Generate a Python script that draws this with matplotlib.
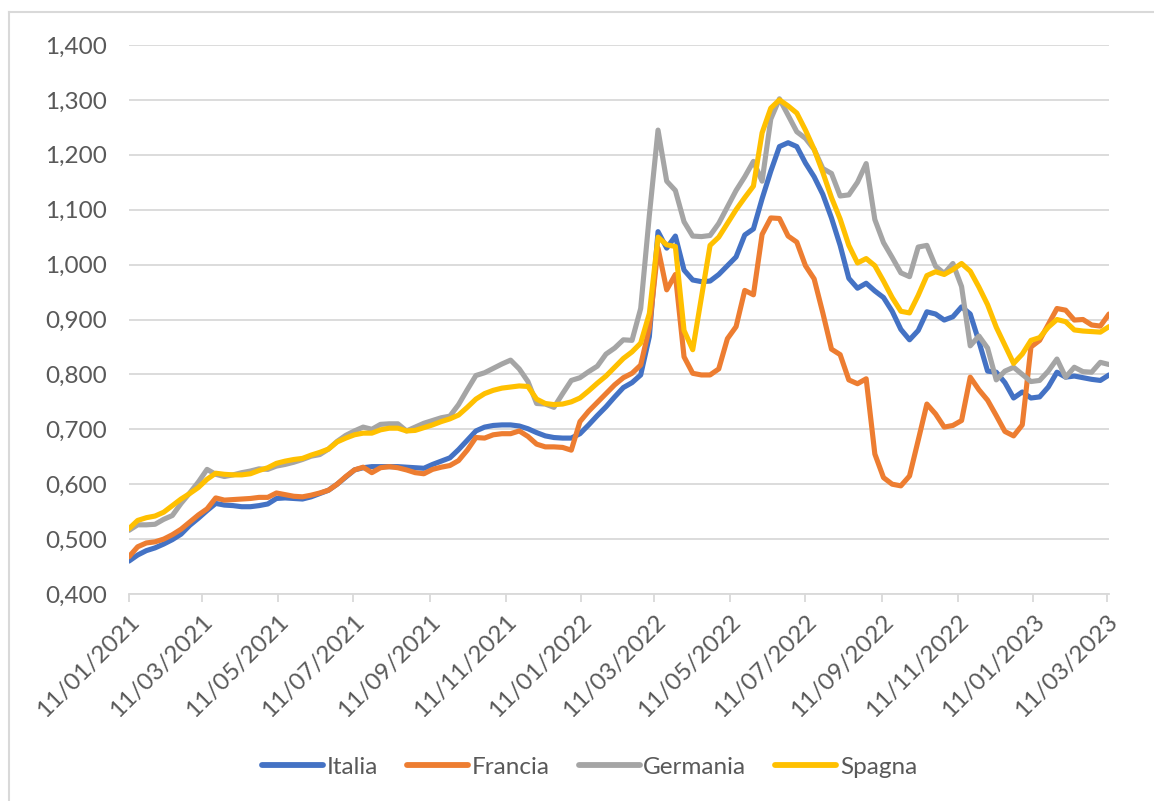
import matplotlib
matplotlib.use("Agg")
import matplotlib.pyplot as plt
import matplotlib.dates as mdates
from matplotlib.lines import Line2D
import pandas as pd

# weekly values, first week 11/01/2021
italia = [
    0.460, 0.471, 0.479, 0.484, 0.491, 0.499, 0.509, 0.525, 0.538, 0.552,
    0.565, 0.562, 0.561, 0.559, 0.559, 0.561, 0.564, 0.574, 0.575, 0.574,
    0.573, 0.577, 0.583, 0.589, 0.600, 0.613, 0.626, 0.630, 0.632, 0.632,
    0.632, 0.632, 0.631, 0.630, 0.629, 0.636, 0.642, 0.648, 0.663, 0.680,
    0.697, 0.704, 0.707, 0.708, 0.708, 0.706, 0.701, 0.694, 0.688, 0.685,
    0.684, 0.684, 0.692, 0.708, 0.725, 0.741, 0.759, 0.776, 0.785, 0.799,
    0.869, 1.060, 1.030, 1.052, 0.990, 0.972, 0.969, 0.970, 0.982, 0.998,
    1.014, 1.054, 1.065, 1.120, 1.170, 1.215, 1.222, 1.215, 1.185, 1.160,
    1.128, 1.085, 1.035, 0.975, 0.957, 0.966, 0.952, 0.940, 0.915, 0.882,
    0.863, 0.880, 0.914, 0.910, 0.899, 0.905, 0.923, 0.910, 0.860, 0.806,
    0.804, 0.785, 0.757, 0.768, 0.757, 0.759, 0.777, 0.804, 0.795, 0.797,
    0.794, 0.791, 0.789, 0.799,
]
francia = [
    0.468, 0.486, 0.493, 0.495, 0.500, 0.508, 0.518, 0.531, 0.544, 0.555,
    0.575, 0.571, 0.572, 0.573, 0.574, 0.576, 0.576, 0.584, 0.581, 0.578,
    0.577, 0.580, 0.584, 0.589, 0.600, 0.614, 0.626, 0.631, 0.621, 0.630,
    0.632, 0.630, 0.626, 0.621, 0.619, 0.627, 0.631, 0.634, 0.643, 0.662,
    0.685, 0.684, 0.690, 0.692, 0.692, 0.697, 0.687, 0.673, 0.668, 0.668,
    0.667, 0.662, 0.714, 0.733, 0.749, 0.765, 0.781, 0.794, 0.802, 0.817,
    0.885, 1.030, 0.954, 0.982, 0.832, 0.802, 0.799, 0.799, 0.810, 0.865,
    0.887, 0.953, 0.945, 1.055, 1.085, 1.084, 1.052, 1.041, 0.998, 0.974,
    0.912, 0.846, 0.836, 0.790, 0.783, 0.792, 0.655, 0.612, 0.600, 0.597,
    0.615, 0.680, 0.746, 0.728, 0.704, 0.707, 0.716, 0.795, 0.772, 0.753,
    0.725, 0.696, 0.688, 0.708, 0.850, 0.862, 0.891, 0.920, 0.917, 0.899,
    0.900, 0.890, 0.888, 0.910,
]
germania = [
    0.516, 0.526, 0.526, 0.527, 0.536, 0.543, 0.565, 0.584, 0.604, 0.627,
    0.618, 0.614, 0.617, 0.621, 0.624, 0.628, 0.627, 0.633, 0.636, 0.640,
    0.645, 0.651, 0.654, 0.664, 0.678, 0.689, 0.697, 0.704, 0.700, 0.709,
    0.710, 0.710, 0.697, 0.704, 0.711, 0.716, 0.721, 0.724, 0.745, 0.772,
    0.798, 0.803, 0.811, 0.819, 0.826, 0.810, 0.787, 0.747, 0.746, 0.740,
    0.765, 0.789, 0.794, 0.805, 0.815, 0.837, 0.848, 0.863, 0.862, 0.920,
    1.090, 1.245, 1.152, 1.135, 1.078, 1.052, 1.051, 1.053, 1.075, 1.105,
    1.135, 1.160, 1.188, 1.152, 1.265, 1.302, 1.272, 1.242, 1.230, 1.210,
    1.175, 1.166, 1.125, 1.127, 1.150, 1.184, 1.082, 1.040, 1.013, 0.985,
    0.978, 1.032, 1.035, 0.997, 0.984, 1.002, 0.960, 0.852, 0.870, 0.848,
    0.790, 0.806, 0.813, 0.800, 0.787, 0.789, 0.806, 0.828, 0.795, 0.813,
    0.805, 0.804, 0.822, 0.818,
]
spagna = [
    0.519, 0.534, 0.539, 0.542, 0.549, 0.561, 0.573, 0.583, 0.594, 0.609,
    0.620, 0.618, 0.617, 0.617, 0.619, 0.625, 0.630, 0.638, 0.642, 0.645,
    0.647, 0.653, 0.658, 0.664, 0.677, 0.684, 0.690, 0.693, 0.693, 0.699,
    0.702, 0.702, 0.697, 0.698, 0.703, 0.708, 0.714, 0.719, 0.726, 0.740,
    0.755, 0.765, 0.771, 0.775, 0.777, 0.779, 0.778, 0.755, 0.747, 0.745,
    0.746, 0.750, 0.757, 0.770, 0.784, 0.797, 0.813, 0.829, 0.841, 0.857,
    0.911, 1.050, 1.036, 1.033, 0.880, 0.845, 0.940, 1.035, 1.050, 1.075,
    1.100, 1.122, 1.143, 1.240, 1.285, 1.300, 1.289, 1.276, 1.245, 1.210,
    1.168, 1.122, 1.083, 1.035, 1.003, 1.011, 0.998, 0.970, 0.940, 0.915,
    0.912, 0.944, 0.980, 0.987, 0.982, 0.991, 1.002, 0.988, 0.959, 0.927,
    0.886, 0.853, 0.820, 0.837, 0.862, 0.867, 0.886, 0.900, 0.896, 0.881,
    0.879, 0.878, 0.877, 0.887,
]

dates = pd.date_range("2021-01-11", periods=len(italia), freq="7D")

series = [
    ("Italia", italia, "#4472C4"),
    ("Francia", francia, "#ED7D31"),
    ("Germania", germania, "#A5A5A5"),
    ("Spagna", spagna, "#FFC000"),
]

plt.rcParams["font.family"] = ["Lato", "DejaVu Sans"]

fig = plt.figure(figsize=(11.54, 8.01), dpi=100)
ax = fig.add_axes([129 / 1154, 1 - 594 / 801, (1109 - 129) / 1154, (594 - 45) / 801])

for name, vals, col in series:
    ax.plot(dates, vals, color=col, lw=3.7, label=name, solid_capstyle="round")

ax.set_ylim(0.4, 1.4)
ax.set_yticks([0.4 + 0.1 * k for k in range(11)])
ax.yaxis.set_major_formatter(plt.FuncFormatter(lambda v, p: f"{v:.3f}".replace(".", ",")))
ax.set_xlim(dates[0], dates[-1])
ax.xaxis.set_major_locator(mdates.MonthLocator(bymonth=[1, 3, 5, 7, 9, 11], bymonthday=11))
ax.xaxis.set_major_formatter(mdates.DateFormatter("%d/%m/%Y"))

ax.grid(axis="y", color="#D9D9D9", lw=1.3)
ax.set_axisbelow(True)
for s in ["top", "right", "left"]:
    ax.spines[s].set_visible(False)
ax.spines["bottom"].set_color("#D9D9D9")
ax.spines["bottom"].set_linewidth(1.3)

ax.tick_params(axis="y", length=0, pad=16, labelsize=17.5, labelcolor="#595959")
ax.tick_params(axis="x", length=6, width=1.3, color="#D9D9D9", pad=6,
               labelsize=17.5, labelcolor="#595959")
for lab in ax.get_xticklabels():
    lab.set_rotation(45)
    lab.set_ha("right")
    lab.set_va("top")
    lab.set_rotation_mode("anchor")

leg = fig.legend(loc="center", bbox_to_anchor=(0.511, 1 - 767 / 801), ncol=4, frameon=False,
                 fontsize=17.5, handlelength=2.5, handletextpad=0.15, columnspacing=1.2)
for t in leg.get_texts():
    t.set_color("#595959")
for h in leg.get_lines():
    h.set_linewidth(4.2)

# chart area border (left and top visible)
fig.add_artist(Line2D([9 / 1154, 9 / 1154], [0, 1 - 12 / 801], transform=fig.transFigure,
                      color="#D9D9D9", lw=1.5))
fig.add_artist(Line2D([9 / 1154, 1], [1 - 12 / 801, 1 - 12 / 801], transform=fig.transFigure,
                      color="#D9D9D9", lw=1.5))

fig.savefig("out.png", dpi=100)
